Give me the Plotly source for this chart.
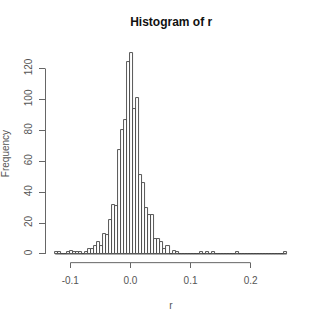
import plotly.graph_objects as go

# histogram of r: bin left edges (width 0.005) and counts
bin_width = 0.005
bin_start = -0.125
counts = [
    1, 1, 0, 0, 1, 2, 1, 1, 1, 0,      # -0.125 .. -0.080
    1, 3, 3, 5, 8, 5, 13, 12, 22, 32,  # -0.075 .. -0.030
    31, 67, 80, 87, 124, 130, 94, 101, 51, 46,  # -0.025 .. 0.020
    30, 25, 25, 10, 10, 8, 3, 5, 0, 2,  # 0.025 .. 0.070
    1, 0, 0, 0, 0, 0, 0, 0, 1, 0,      # 0.075 .. 0.120
    1, 0, 1, 0, 0, 0, 0, 0, 0, 0,      # 0.125 .. 0.170
    1, 0, 0, 0, 0, 0, 0, 0, 0, 0,      # 0.175 .. 0.220
    0, 0, 0, 0, 0, 0, 1,               # 0.225 .. 0.255
]
x_ticks = [-0.1, 0.0, 0.1, 0.2]
x_tick_labels = ["-0.1", "0.0", "0.1", "0.2"]
y_ticks = [0, 20, 40, 60, 80, 100, 120]

centers = [bin_start + bin_width * (i + 0.5) for i in range(len(counts))]
x_lo = bin_start
x_hi = bin_start + bin_width * len(counts)
span = x_hi - x_lo
ymax = max(counts)

font = "Liberation Sans, Arial, sans-serif"
axis_col = "#666666"
text_col = "#555555"

fig = go.Figure()
fig.add_trace(go.Bar(
    x=centers, y=counts, width=bin_width,
    marker=dict(color="white", line=dict(color="#444444", width=0.9)),
    hoverinfo="x+y",
))

shapes = [
    # baseline of zero-height bins
    dict(type="line", xref="x", yref="y", x0=x_lo, x1=x_hi, y0=0, y1=0,
         line=dict(color="#444444", width=0.9), layer="below"),
    # x axis line
    dict(type="line", xref="x", yref="paper", x0=x_ticks[0], x1=x_ticks[-1], y0=-0.003, y1=-0.003,
         line=dict(color=axis_col, width=1)),
    # y axis line
    dict(type="line", xref="paper", yref="y", x0=-0.002, x1=-0.002, y0=y_ticks[0], y1=y_ticks[-1],
         line=dict(color=axis_col, width=1)),
]

fig.update_layout(
    width=320, height=319,
    margin=dict(l=46, r=24, t=45, b=57),
    paper_bgcolor="white", plot_bgcolor="white",
    showlegend=False,
    bargap=0,
    shapes=shapes,
    font=dict(family=font, color=text_col, size=10),
    title=dict(text="<b>Histogram of r</b>", x=0.535, xanchor="center",
               y=1 - 22 / 319, yanchor="middle",
               font=dict(family=font, size=12, color="#111111")),
    xaxis=dict(range=[x_lo - 0.04 * span, x_hi + 0.04 * span],
               automargin=False,
               showgrid=False, zeroline=False, showline=False,
               tickmode="array", tickvals=x_ticks, ticktext=x_tick_labels,
               ticks="outside", ticklen=5, tickcolor=axis_col, tickwidth=1,
               ticklabelstandoff=4,
               tickfont=dict(size=10, color=text_col),
               title=dict(text="r", standoff=16, font=dict(size=10, color=text_col))),
    yaxis=dict(range=[-0.04 * ymax, ymax * 1.04],
               automargin=False,
               showgrid=False, zeroline=False, showline=False,
               tickmode="array", tickvals=y_ticks,
               ticks="outside", ticklen=6, tickcolor=axis_col, tickwidth=1,
               tickangle=-90, ticklabelstandoff=3,
               tickfont=dict(size=10, color=text_col),
               title=dict(text="Frequency", standoff=14, font=dict(size=10, color=text_col))),
)

fig.write_html("out.html")
